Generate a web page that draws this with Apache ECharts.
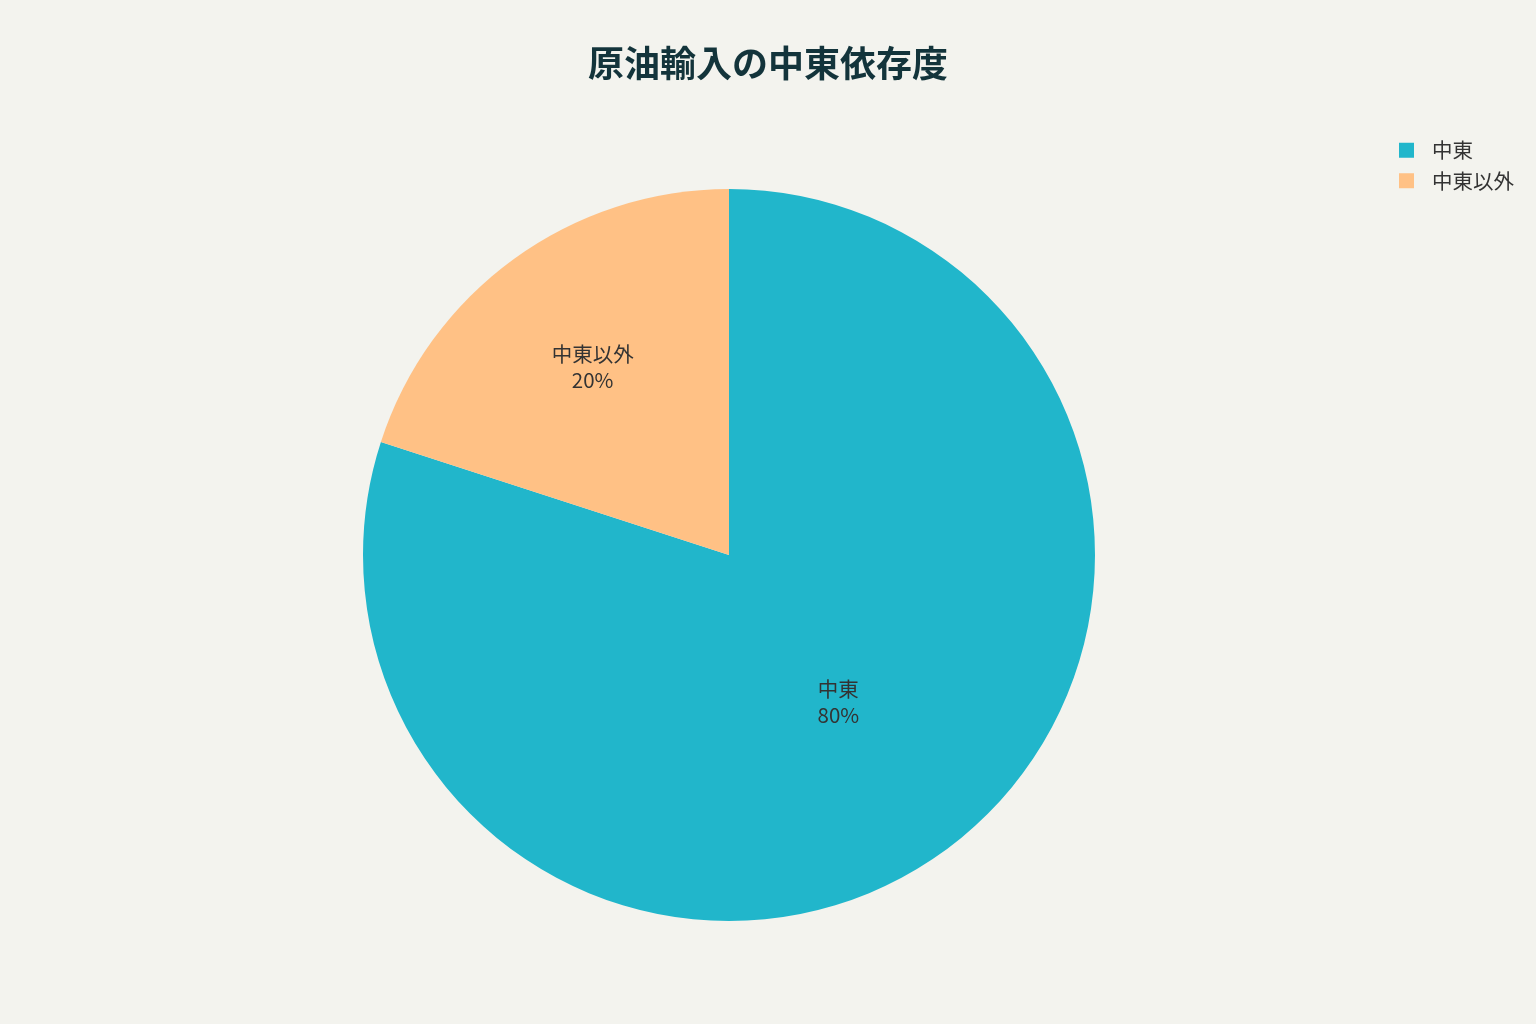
<!DOCTYPE html>
<html>
<head>
<meta charset="utf-8">
<script src="https://cdn.jsdelivr.net/npm/echarts@6/dist/echarts.min.js"></script>
<style>
html,body{margin:0;padding:0;background:#F3F3EE;}
#c{width:1536px;height:1024px;}
</style>
</head>
<body>
<div id="c"></div>
<script>
const categories = ['中東', '中東以外'];
const values = [80, 20];
const colors = ['#21B6CB', '#FFC185'];

const chart = echarts.init(document.getElementById('c'));
const font = '"Noto Sans CJK JP", "Noto Sans", sans-serif';
chart.setOption({
  backgroundColor: '#F3F3EE',
  textStyle: { fontFamily: font },
  title: {
    text: '原油輸入の中東依存度',
    left: 'center',
    top: 40,
    textStyle: { fontSize: 36, fontWeight: 'bold', color: '#13343B', fontFamily: font }
  },
  legend: {
    orient: 'vertical',
    right: 17,
    top: 135,
    icon: 'rect',
    itemWidth: 15,
    itemHeight: 15,
    itemGap: 10,
    textStyle: { fontSize: 20.5, color: '#333333', fontFamily: font, padding: [0, 0, 0, 13] },
    data: categories
  },
  series: [{
    type: 'pie',
    center: [729, 555],
    radius: 366,
    startAngle: 90,
    clockwise: true,
    avoidLabelOverlap: false,
    label: {
      show: true,
      position: 'inside',
      formatter: '{b}\n{d}%',
      fontSize: 20.5,
      lineHeight: 26,
      color: '#333333',
      fontFamily: font
    },
    labelLine: { show: false },
    emphasis: { disabled: true },
    labelLayout: function (p) {
      // push small-slice labels further outward, like the reference
      if (p.dataIndex === 1) {
        return { dx: -27, dy: -37 };
      }
      return { dy: -3 };
    },
    data: categories.map((n, i) => ({ name: n, value: values[i], itemStyle: { color: colors[i] } }))
  }]
});
</script>
</body>
</html>
